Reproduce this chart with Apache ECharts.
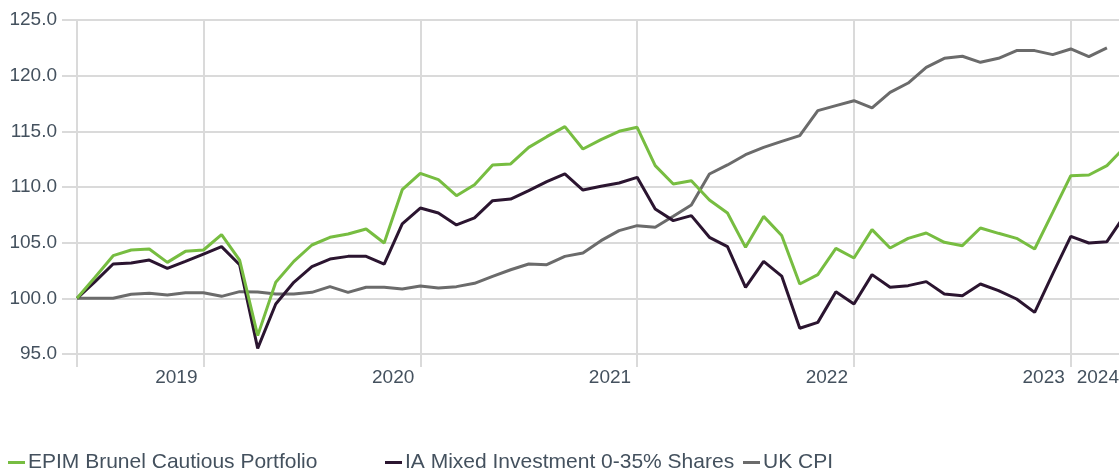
<!DOCTYPE html>
<html>
<head>
<meta charset="utf-8">
<script src="https://cdn.jsdelivr.net/npm/echarts@6/dist/echarts.min.js"></script>
<style>
  html, body { margin: 0; padding: 0; background: #fff; }
  #chart { width: 1119px; height: 472px; }
</style>
</head>
<body>
<div id="chart"></div>
<script>
// monthly points, first one rebased to 100
var epim = [100.0, 101.9, 103.83, 104.34, 104.43, 103.23, 104.22, 104.34, 105.72, 103.44,
  96.65, 101.44, 103.32, 104.79, 105.48, 105.78, 106.23, 104.97, 109.76, 111.23,
  110.66, 109.22, 110.21, 111.98, 112.07, 113.56, 114.52, 115.42, 113.41, 114.25,
  115.0, 115.36, 111.92, 110.27, 110.57, 108.83, 107.66, 104.58, 107.36, 105.65,
  101.29, 102.13, 104.49, 103.62, 106.17, 104.52, 105.39, 105.87, 105.03, 104.73,
  106.32, 105.84, 105.39, 104.43, 107.72, 111.02, 111.08, 111.92, 113.6];

var iaMixed = [100.0, 101.5, 103.08, 103.17, 103.44, 102.69, 103.32, 103.98, 104.64, 103.02,
  95.51, 99.49, 101.44, 102.84, 103.53, 103.77, 103.77, 103.08, 106.68, 108.11,
  107.66, 106.59, 107.22, 108.77, 108.92, 109.67, 110.48, 111.17, 109.73, 110.06,
  110.36, 110.87, 108.02, 106.98, 107.43, 105.48, 104.64, 100.99, 103.32, 102.0,
  97.31, 97.84, 100.6, 99.49, 102.13, 100.99, 101.14, 101.5, 100.39, 100.24,
  101.29, 100.69, 99.94, 98.74, 102.19, 105.57, 104.97, 105.09, 107.5];

var ukCpi = [100.0, 100.0, 100.0, 100.36, 100.45, 100.3, 100.5, 100.5, 100.18, 100.6,
  100.57, 100.39, 100.39, 100.54, 101.05, 100.54, 100.99, 100.99, 100.84, 101.1,
  100.93, 101.05, 101.35, 101.98, 102.57, 103.08, 103.02, 103.77, 104.07, 105.18,
  106.08, 106.53, 106.38, 107.37, 108.38, 111.17, 111.98, 112.9, 113.56, 114.1,
  114.61, 116.86, 117.31, 117.75, 117.1, 118.5, 119.34, 120.75, 121.56, 121.74,
  121.2, 121.56, 122.25, 122.25, 121.89, 122.4, 121.71, 122.49, null];

var yearLabels = ['2019', '2020', '2021', '2022', '2023', '2024'];
var yearIdx = [7, 19, 31, 43, 55, 58];   // point where each year label sits
var tickIdx = [0, 7, 19, 31, 43, 55];    // vertical grid lines

var names = ['EPIM Brunel Cautious Portfolio', 'IA Mixed Investment 0-35% Shares', 'UK CPI'];
var colors = ['#77bd41', '#2b1530', '#6b6b6b'];

var months = [];
for (var i = 0; i < epim.length; i++) months.push('m' + i);

var font = 'Arial, "Liberation Sans", sans-serif';
var textColor = '#44515e';
var gridColor = '#dadada';

function legendAt(idx, left) {
  return {
    data: [names[idx]],
    left: left,
    top: 452,
    padding: 0,
    icon: 'rect',
    itemWidth: 17,
    itemHeight: 3,
    textStyle: { fontFamily: font, fontSize: 21, color: textColor, padding: [0, 0, 0, -2] }
  };
}

var myChart = echarts.init(document.getElementById('chart'));
myChart.setOption({
  animation: false,
  backgroundColor: '#fff',
  // last point sits just past the right edge, as in the original
  grid: { left: 77, top: 20, width: 1048, height: 334, outerBoundsMode: 'none', containLabel: false },
  legend: [legendAt(0, 8), legendAt(1, 385), legendAt(2, 743)],
  xAxis: {
    type: 'category',
    data: months,
    boundaryGap: false,
    axisLine: { show: false },
    axisTick: {
      show: true,
      length: 13,
      interval: function (i) { return tickIdx.indexOf(i) >= 0; },
      lineStyle: { color: gridColor, width: 2 }
    },
    splitLine: {
      show: true,
      interval: function (i) { return tickIdx.indexOf(i) >= 0; },
      lineStyle: { color: gridColor, width: 2 }
    },
    axisLabel: {
      interval: function (i) { return yearIdx.indexOf(i) >= 0; },
      formatter: function (v, i) { return yearLabels[yearIdx.indexOf(i)]; },
      align: 'right',
      padding: [0, 6, 0, 0],
      margin: 14,
      fontFamily: font,
      fontSize: 19,
      color: textColor
    }
  },
  yAxis: {
    type: 'value',
    min: 95,
    max: 125,
    interval: 5,
    axisLine: { show: false },
    axisTick: { show: true, length: 15, lineStyle: { color: gridColor, width: 2 } },
    splitLine: { lineStyle: { color: gridColor, width: 2 } },
    axisLabel: {
      margin: 20,
      fontFamily: font,
      fontSize: 19,
      color: textColor,
      formatter: function (v) { return v.toFixed(1); }
    }
  },
  series: [
    { name: names[2], type: 'line', data: ukCpi, showSymbol: false, symbol: 'none',
      lineStyle: { width: 3, color: colors[2] }, itemStyle: { color: colors[2] } },
    { name: names[1], type: 'line', data: iaMixed, showSymbol: false, symbol: 'none',
      lineStyle: { width: 3, color: colors[1] }, itemStyle: { color: colors[1] } },
    { name: names[0], type: 'line', data: epim, showSymbol: false, symbol: 'none',
      lineStyle: { width: 3, color: colors[0] }, itemStyle: { color: colors[0] } }
  ]
});
</script>
</body>
</html>
